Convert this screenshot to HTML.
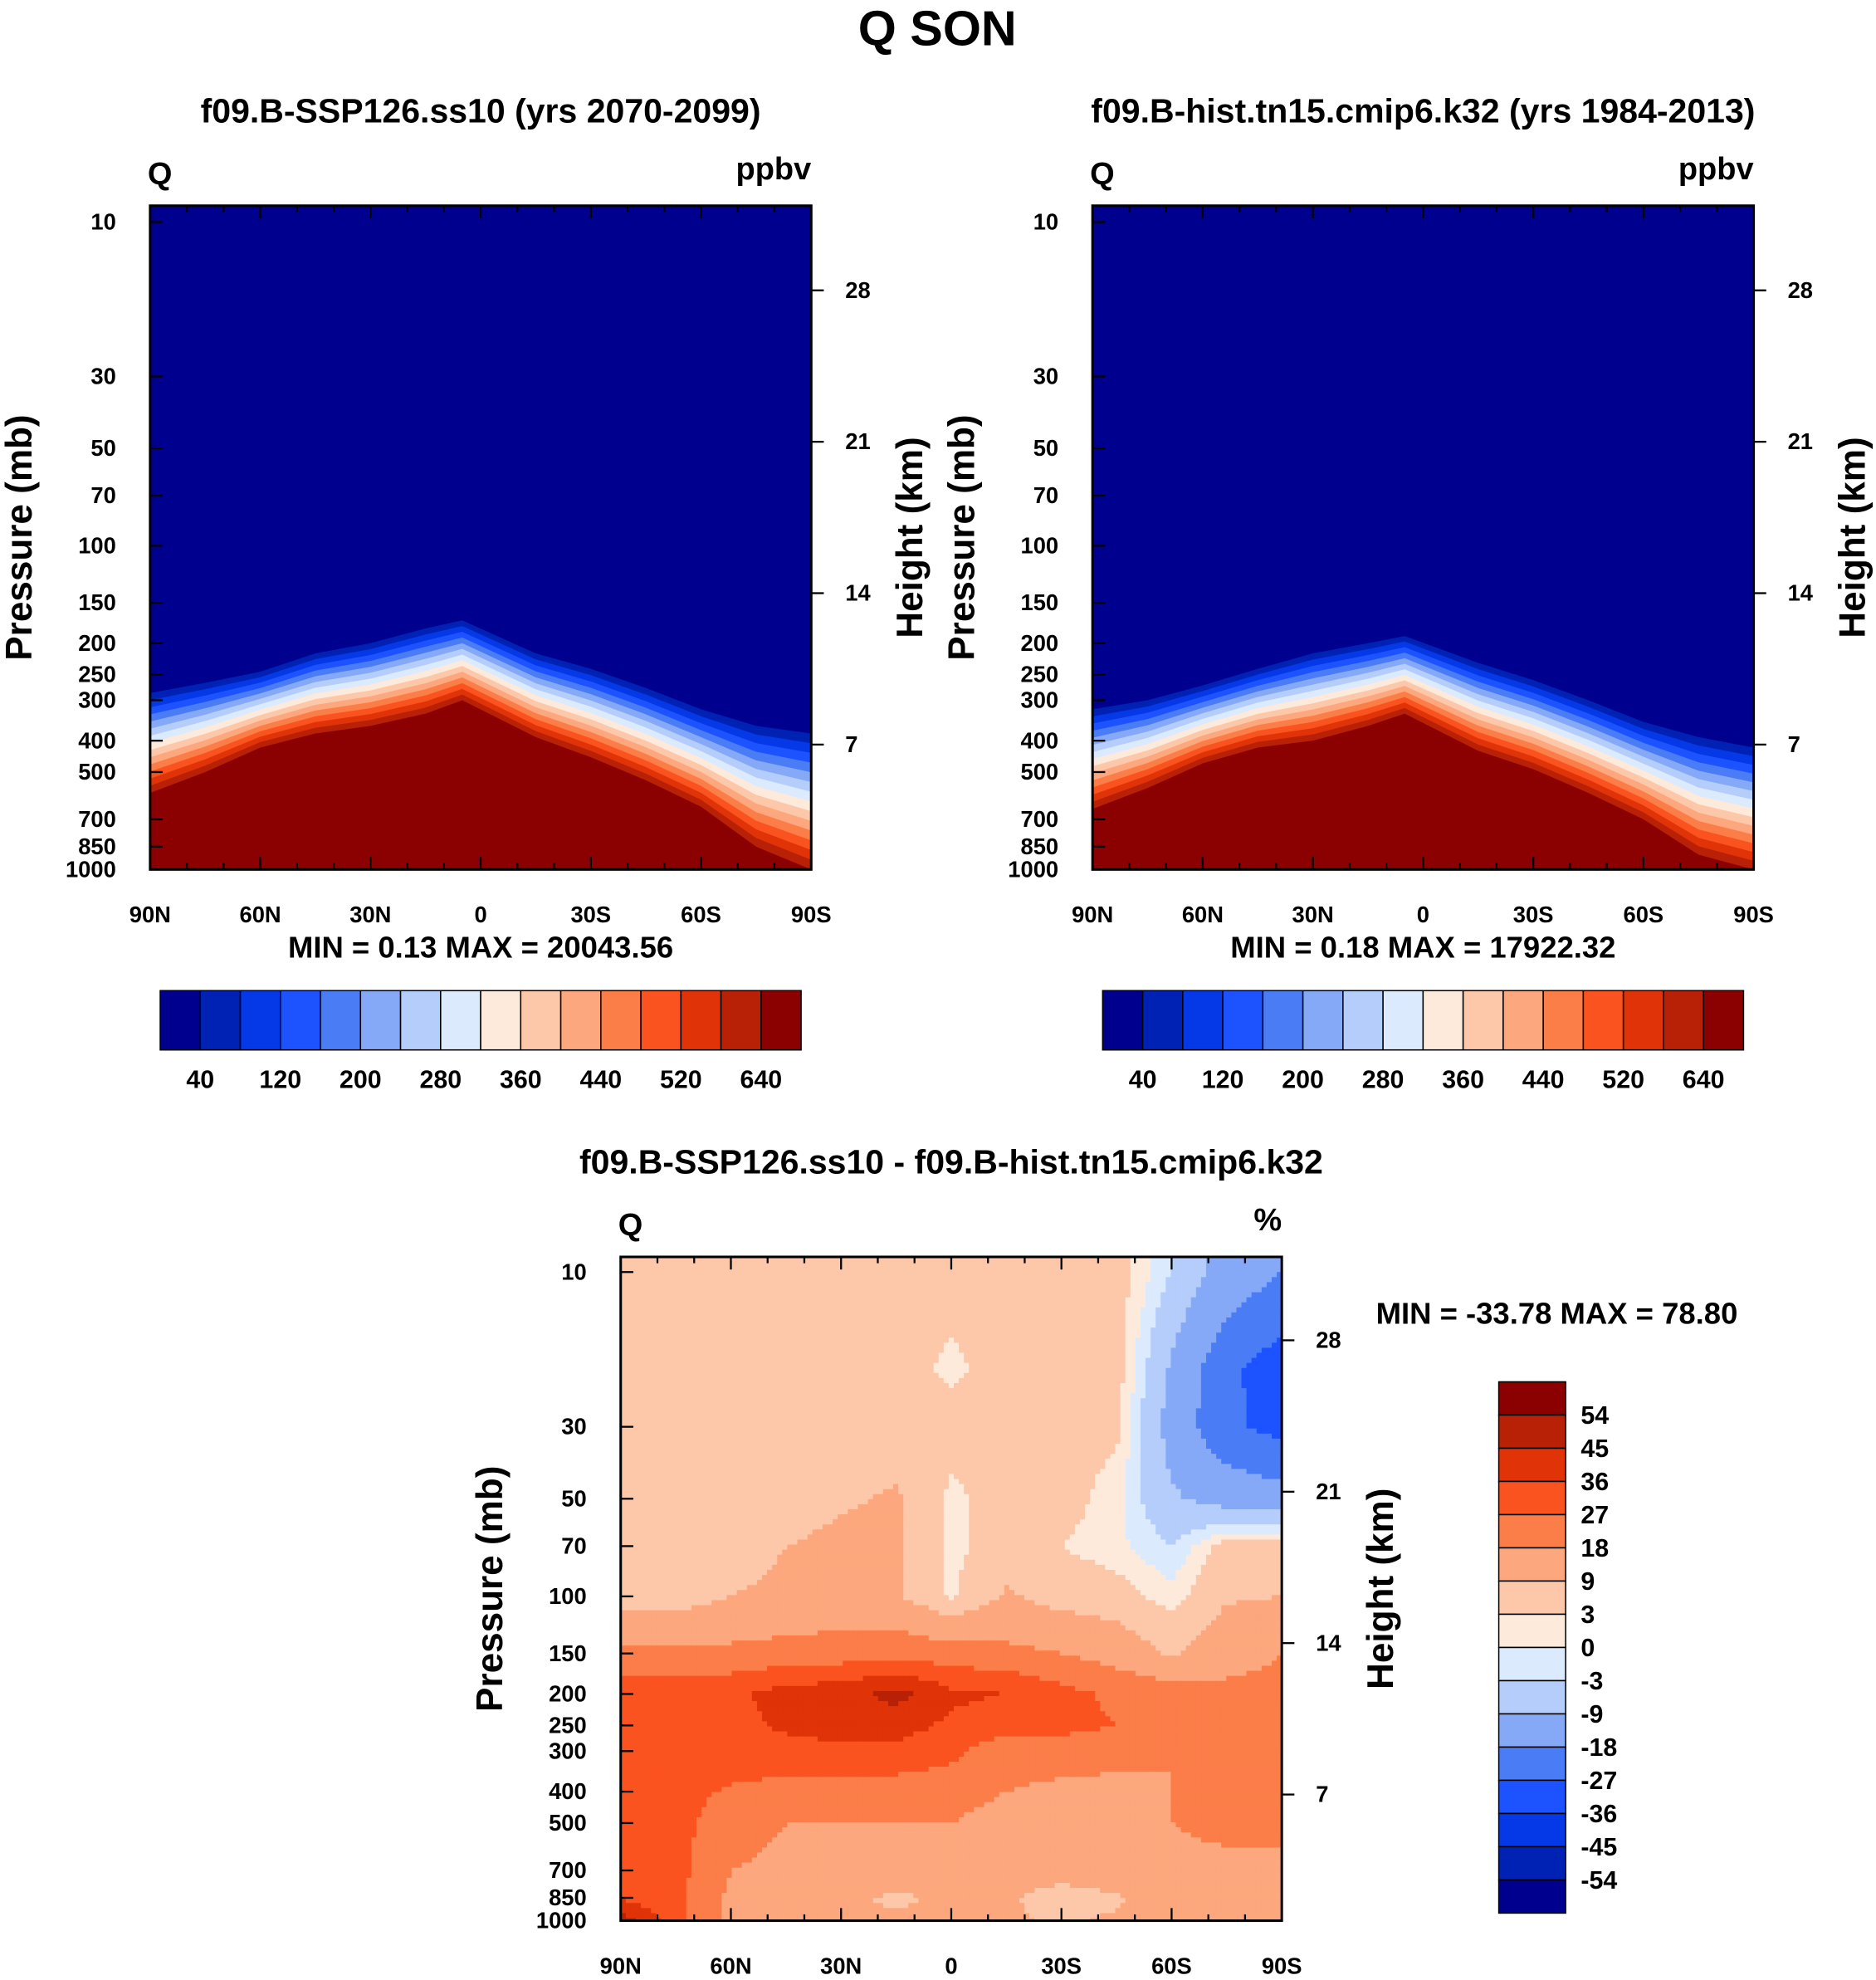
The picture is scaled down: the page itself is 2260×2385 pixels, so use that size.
<!DOCTYPE html>
<html><head><meta charset="utf-8"><style>
html,body{margin:0;padding:0;background:#fff}
svg{display:block}
text{font-family:"Liberation Sans",sans-serif;font-weight:bold;fill:#000}
</style></head><body>
<svg id="s" xmlns="http://www.w3.org/2000/svg" width="2260" height="2385" viewBox="0 0 1487 1569" preserveAspectRatio="none">
<text x="743" y="36" font-size="39" text-anchor="middle">Q SON</text>
</svg>
<script>
const lats=[90,75,60,45,30,15,5,-15,-30,-45,-60,-75,-90];
const p1Top=[285,265,245,215,200,180,170,215,240,275,320,360,380];
const p1Base=[580,500,420,380,360,330,300,390,450,530,640,850,1000];
const p2Top=[320,300,270,240,215,200,190,230,260,300,350,390,420];
const p2Base=[650,560,470,420,400,360,330,430,490,580,700,900,1000];
const presTicks=[10,30,50,70,100,150,200,250,300,400,500,700,850,1000];
const hTicks=[7,14,21,28];
const latLabels=["90N","60N","30N","0","30S","60S","90S"];
const cbLabels1=["40","120","200","280","360","440","520","640"];
const cbLabels2=["54","45","36","27","18","9","3","0","-3","-9","-18","-27","-36","-45","-54"];
const dLevels=[10,20,30,50,70,100,150,200,250,300,400,500,700,850,1000];
const dVals=[
[5,5,5,5,5,5,5,5,5,5,-3,-12,-18],
[5,5,5,5,5,5,2,5,5,5,-10,-25,-32],
[5,5,5,5,5,5,5,5,5,4,-12,-25,-30],
[5,5,5,5,8,10,2,5,5,1,-8,-12,-14],
[5,5,5,9,11,10,2,5,3,1,-3,5,5],
[5,5,9,11,12,10,2,10,6,5,1,8,9],
[20,20,20,21,22,24,22,20,18,14,8,15,18],
[32,32,34,40,42,48,38,36,30,25,22,20,20],
[30,30,32,38,40,40,34,30,30,27,25,20,20],
[32,32,32,32,34,34,29,22,22,20,18,20,20],
[32,30,26,24,22,22,22,18,16,16,18,20,20],
[33,30,22,18,18,18,18,14,14,18,18,20,20],
[32,30,18,16,14,14,10,12,12,14,16,16,16],
[35,30,16,12,10,8,10,10,6,8,14,14,14],
[50,30,16,10,10,10,10,10,8,10,14,14,14]];
const dThresh=[-54,-45,-36,-27,-18,-9,-3,0,3,9,18,27,36,45,54];
const colors=["#00008e","#0022b4","#0538e6","#1c52ff","#4a7cf6","#85a9f7","#b4cdfb","#dceafd","#fdeadb","#fcc8a9","#fca77d","#fb7d48","#fb5320","#e03308","#b82106","#8b0000"];
const NS="http://www.w3.org/2000/svg";
const svg=document.getElementById('s');
function el(tag,attrs,parent,txt){const e=document.createElementNS(NS,tag);for(const k in attrs)e.setAttribute(k,attrs[k]);if(txt!==undefined)e.textContent=txt;(parent||svg).appendChild(e);return e;}

function panel(P){
  const g=el('g',{});
  
  
  const xs=lat=>P.x0+(90-lat)/180*(P.x1-P.x0);
  const ys=p=>P.y10+(Math.log10(p)-1)/2*(P.y1000-P.y10);
  const yh=z=>P.yh0-z*P.yhk;
  const cid='c'+P.id;
  const cp=el('clipPath',{id:cid},g);el('rect',{x:P.x0,y:P.yt,width:P.x1-P.x0,height:P.y1000-P.yt},cp);
  const pg=el('g',{'clip-path':'url(#'+cid+')'},g);
  P.draw(pg,xs,ys);
  const fr=el('rect',{x:P.x0,y:P.yt,width:P.x1-P.x0,height:P.y1000-P.yt,fill:'none',stroke:'#000','stroke-width':2},g);
  
  for(let l=90;l>=-90;l-=10){const x=xs(l);const maj=l%30===0;const L=maj?10:5;
    el('line',{x1:x,y1:P.y1000,x2:x,y2:P.y1000-L,stroke:'#000','stroke-width':1.5},g);
    el('line',{x1:x,y1:P.yt,x2:x,y2:P.yt+L,stroke:'#000','stroke-width':1.5},g);}
  latLabels.forEach((t,i)=>{const tx=el('text',{x:xs(90-30*i),y:P.y1000+42,'font-size':18,'text-anchor':'middle'},g,t);
    });
  presTicks.forEach(p=>{const y=ys(p);el('line',{x1:P.x0,y1:y,x2:P.x0+10,y2:y,stroke:'#000','stroke-width':1.5},g);
    const tx=el('text',{x:P.x0-27,y:y+6,'font-size':18,'text-anchor':'end'},g,p);
    });
  hTicks.forEach(z=>{const y=yh(z);el('line',{x1:P.x1,y1:y,x2:P.x1+10,y2:y,stroke:'#000','stroke-width':1.5},g);
    const tx=el('text',{x:P.x1+27,y:y+6,'font-size':18},g,z);
    });
  let t=el('text',{x:P.x0-2,y:P.yt-17,'font-size':25},g,'Q');
  t=el('text',{x:P.x1,y:P.yt-21,'font-size':25,'text-anchor':'end'},g,P.units);
  t=el('text',{x:(P.x0+P.x1)/2,y:P.yt-66,'font-size':27,'text-anchor':'middle'},g,P.title);
  t=el('text',{transform:`translate(${P.x0-94},${(P.yt+P.y1000)/2}) rotate(-90)`,'font-size':29,'text-anchor':'middle'},g,'Pressure (mb)');
  t=el('text',{transform:`translate(${P.x1+88},${(P.yt+P.y1000)/2}) rotate(-90)`,'font-size':29,'text-anchor':'middle'},g,'Height (km)');
}
function bandDraw(top,base){return function(pg,xs,ys){
  el('rect',{x:0,y:0,width:1487,height:1569,fill:colors[0]},pg);
  for(let k=1;k<16;k++){const t=(k-1)/14;let pts=[];
    lats.forEach((l,i)=>{const lp=Math.log10(top[i])*(1-t)+Math.log10(base[i])*t;pts.push(xs(l)+','+ys(Math.pow(10,lp)));});
    pts.push(xs(-90)+','+ys(1100));pts.push(xs(90)+','+ys(1100));
    const pl=el('polygon',{points:pts.join(' '),fill:colors[k]},pg);
    }
};}
function hbar(x0,y0,w,h){
  const g=el('g',{});
  const bw=w/16;
  colors.forEach((c,i)=>{const r=el('rect',{x:x0+i*bw,y:y0,width:bw,height:h,fill:c,stroke:'#000','stroke-width':1},g);
    });
  cbLabels1.forEach((t,i)=>{const tx=el('text',{x:x0+bw*(1+2*i),y:y0+h+30,'font-size':20,'text-anchor':'middle'},g,t);
    });
}
const common={yt:163,y10:176,y1000:689,yh0:710,yhk:17.14,units:'ppbv'};
panel(Object.assign({id:1,name:'panel-ssp126',x0:119,x1:643,title:'f09.B-SSP126.ss10 (yrs 2070-2099)',draw:bandDraw(p1Top,p1Base)},common));
panel(Object.assign({id:2,name:'panel-hist',x0:866,x1:1390,title:'f09.B-hist.tn15.cmip6.k32 (yrs 1984-2013)',draw:bandDraw(p2Top,p2Base)},common));
let t=el('text',{x:381,y:759,'font-size':24,'text-anchor':'middle','xml:space':'preserve'},svg,'MIN =   0.13  MAX = 20043.56');
t=el('text',{x:1128,y:759,'font-size':24,'text-anchor':'middle','xml:space':'preserve'},svg,'MIN =   0.18  MAX = 17922.32');
hbar(127,785,508,47);hbar(874,785,508,47);

function colorFor(v){let i=0;while(i<dThresh.length&&v>=dThresh[i])i++;return colors[i];}
panel({id:3,name:'panel-difference',x0:492,x1:1016,yt:996,y10:1008,y1000:1522,yh0:1542,yhk:17.14,units:'%',
 title:'f09.B-SSP126.ss10 - f09.B-hist.tn15.cmip6.k32',
 draw:function(pg,xs,ys){
  const lv=dLevels.map(p=>Math.log10(p));
  const step=4;
  for(let y=996;y<1522;y+=step){
    const lp=1+(y+step/2-1008)/(1522-1008)*2;
    let j=0;while(j<lv.length-2&&lp>lv[j+1])j++;
    let fy=Math.max(0,Math.min(1,(lp-lv[j])/(lv[j+1]-lv[j])));
    for(let x=492;x<1016;x+=step){
      const lat=90-(x+step/2-492)/524*180;
      let fi=(90-lat)/15;let i=Math.min(11,Math.floor(fi));let fx=fi-i;
      const v=(dVals[j][i]*(1-fx)+dVals[j][i+1]*fx)*(1-fy)+(dVals[j+1][i]*(1-fx)+dVals[j+1][i+1]*fx)*fy;
      const r=el('rect',{x:x,y:y,width:step+0.5,height:step+0.5,fill:colorFor(v)},pg);
      
      
    }
  }
 }});
t=el('text',{x:1234,y:1049,'font-size':24,'text-anchor':'middle','xml:space':'preserve'},svg,'MIN = -33.78  MAX =  78.80');
(function(){const g=el('g',{});
 const x0=1188,y0=1095,w=53,h=421,bh=h/16;
 colors.slice().reverse().forEach((c,i)=>{const r=el('rect',{x:x0,y:y0+i*bh,width:w,height:bh,fill:c,stroke:'#000','stroke-width':1},g);
   });
 cbLabels2.forEach((s,i)=>{const tx=el('text',{x:x0+w+12,y:y0+bh*(i+1)+7,'font-size':20},g,s);
   });
})();
</script>
</body></html>
